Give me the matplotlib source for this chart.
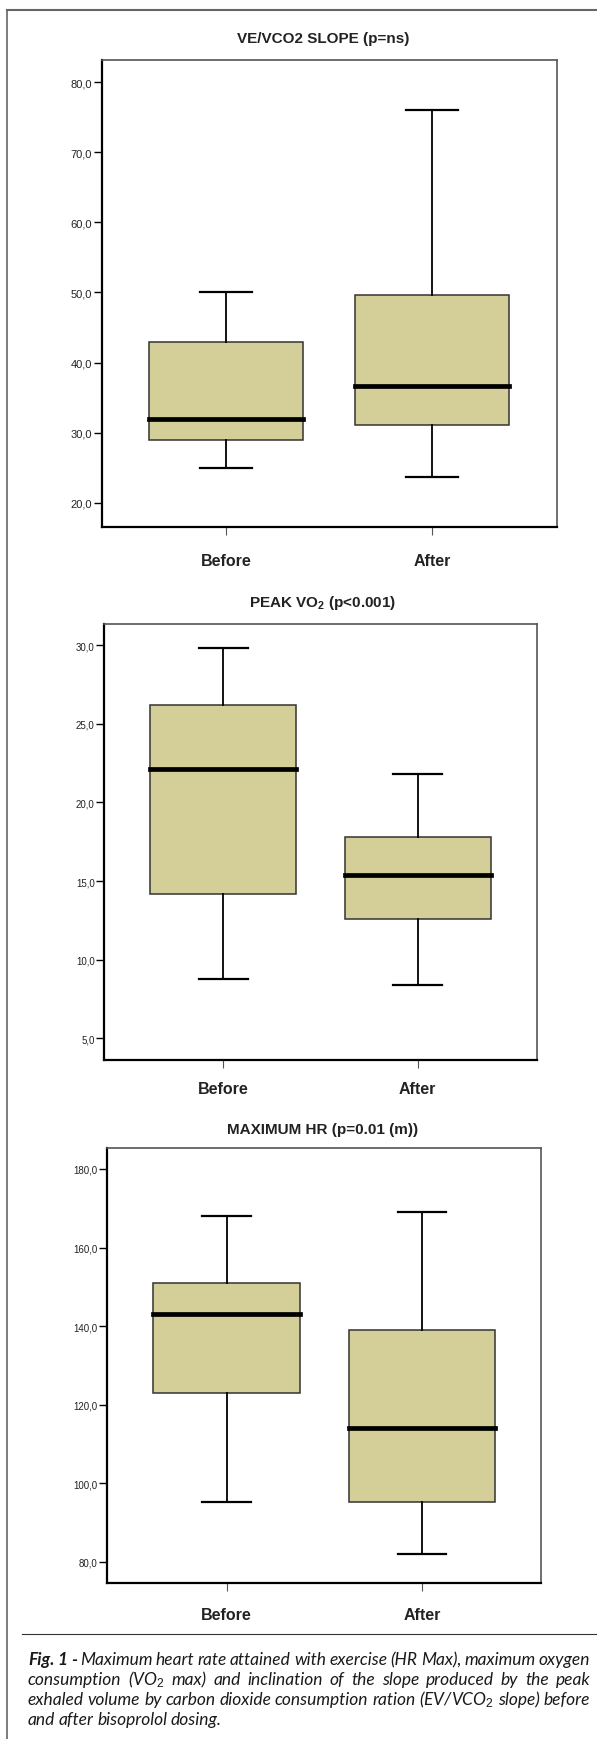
import matplotlib
matplotlib.use("Agg")
import matplotlib.pyplot as plt
from matplotlib.lines import Line2D

plt.rcParams['font.family'] = ['Liberation Sans', 'DejaVu Sans']
plt.rcParams['mathtext.fontset'] = 'custom'
plt.rcParams['mathtext.rm'] = 'Liberation Sans'
plt.rcParams['mathtext.bf'] = 'Liberation Sans:bold'
plt.rcParams['mathtext.it'] = 'Lato:italic'

W, H = 597, 1740

categories = ["Before", "After"]

# whisker low, Q1, median, Q3, whisker high
slope_before = [25.0, 29.0, 32.0, 43.0, 50.0]
slope_after = [23.7, 31.1, 36.7, 49.7, 76.0]

vo2_before = [8.8, 14.2, 22.1, 26.2, 29.8]
vo2_after = [8.4, 12.6, 15.4, 17.8, 21.8]

hr_before = [95.1, 123.0, 143.0, 151.0, 168.0]
hr_after = [82.0, 95.1, 114.0, 139.0, 169.0]

titles = ["VE/VCO2 SLOPE (p=ns)", r"PEAK VO$_\mathbf{2}$ (p<0.001)", "MAXIMUM HR (p=0.01 (m))"]
yticks_list = [[20, 30, 40, 50, 60, 70, 80],
               [5, 10, 15, 20, 25, 30],
               [80, 100, 120, 140, 160, 180]]

caption_lines = [
    "Fig. 1 - Maximum heart rate attained with exercise (HR Max), maximum oxygen",
    r"consumption (VO$_2$ max) and inclination of the slope produced by the peak",
    r"exhaled volume by carbon dioxide consumption ration (EV/VCO$_2$ slope) before",
    "and after bisoprolol dosing.",
]

# layout in pixels: left, top, right, bottom
boxes_px = [(101.7, 61, 557, 527.7), (104.3, 625.3, 537, 1061), (107, 1149.3, 541, 1584.3)]
ylims = [(16.57, 83.18), (3.62, 31.32), (74.5, 185.26)]
xlims = [(0.397, 2.607), (0.388, 2.614), (0.387, 2.609)]
title_y = [39, 603, 1130]
ytick_size = [8, 7, 7]
xlab_pad = [13, 9, 11]


def to_stats(vals, label):
    lo, q1, med, q3, hi = vals
    return dict(whislo=lo, q1=q1, med=med, q3=q3, whishi=hi, label=label, fliers=[])


fig = plt.figure(figsize=(W / 100, H / 100), dpi=100)

panels = [(slope_before, slope_after), (vo2_before, vo2_after), (hr_before, hr_after)]

for i, (before, after) in enumerate(panels):
    l, t, r, b = boxes_px[i]
    ax = fig.add_axes([l / W, 1 - b / H, (r - l) / W, (b - t) / H])
    stats = [to_stats(before, categories[0]), to_stats(after, categories[1])]
    ax.bxp(stats, positions=[1, 2], widths=0.75, capwidths=0.25, showfliers=False,
           patch_artist=True,
           boxprops=dict(facecolor='#D4CF99', edgecolor='#333333', linewidth=1.1),
           whiskerprops=dict(color='black', linewidth=1.3),
           capprops=dict(color='black', linewidth=1.6),
           medianprops=dict(color='black', linewidth=3.4, solid_capstyle='projecting'))
    ax.set_xlim(*xlims[i])
    ax.set_ylim(*ylims[i])
    ax.set_yticks(yticks_list[i])
    ax.set_yticklabels([("%.1f" % v).replace('.', ',') for v in yticks_list[i]])
    ax.set_xticks([1, 2])
    ax.set_xticklabels(categories, fontsize=11.5, fontweight='bold', color='#222222')
    ax.tick_params(axis='y', length=6, width=1.0, pad=1, labelsize=ytick_size[i],
                   labelcolor='#222222')
    ax.tick_params(axis='x', length=6, width=0.8, color='#555555', pad=xlab_pad[i])
    for side in ['left', 'bottom']:
        ax.spines[side].set_linewidth(1.6)
        ax.spines[side].set_color('black')
    for side in ['top', 'right']:
        ax.spines[side].set_linewidth(1.2)
        ax.spines[side].set_color('#555555')
    fig.text(323 / W, 1 - title_y[i] / H, titles[i], ha='center', va='center',
             fontsize=11, fontweight='bold', color='#222222')

# page frame and caption rule
fig.add_artist(Line2D([6.5 / W, 6.5 / W], [0, 1 - 10.7 / H], transform=fig.transFigure,
                      color='#666666', linewidth=1.2))
fig.add_artist(Line2D([6.5 / W, 1], [1 - 10.7 / H, 1 - 10.7 / H], transform=fig.transFigure,
                      color='#666666', linewidth=1.5))
fig.add_artist(Line2D([21.7 / W, 1], [1 - 1635 / H, 1 - 1635 / H], transform=fig.transFigure,
                      color='#333333', linewidth=0.8))

# justified caption
renderer = fig.canvas.get_renderer()
cap_left, cap_right = 28.0, 590.0
line_y0, line_step = 1660, 20
bold_words = {"Fig.", "1", "-"}


def make_words(size):
    rows = []
    for k, line in enumerate(caption_lines):
        words = line.split(" ")
        y = 1 - (line_y0 + k * line_step) / H
        objs = []
        for j, w in enumerate(words):
            bold = (k == 0 and j < 3 and w in bold_words)
            txt = fig.text(0, y, w, ha='left', va='center', fontsize=size,
                           family=['Lato', 'DejaVu Sans'], style='italic',
                           fontweight='bold' if bold else 'normal', color='#1a1a1a')
            objs.append(txt)
        rows.append(objs)
    return rows


size = 13.5
while True:
    rows = make_words(size)
    min_gap = 99
    for objs in rows[:-1]:
        widths = [o.get_window_extent(renderer).width for o in objs]
        gap = (cap_right - cap_left - sum(widths)) / (len(objs) - 1)
        min_gap = min(min_gap, gap)
    if min_gap >= 3.0 or size < 8:
        break
    for objs in rows:
        for o in objs:
            o.remove()
    size -= 0.25

for k, objs in enumerate(rows):
    widths = [o.get_window_extent(renderer).width for o in objs]
    if k < len(rows) - 1:
        gap = (cap_right - cap_left - sum(widths)) / (len(objs) - 1)
    else:
        gap = 3.5
    x = cap_left
    for o, wd in zip(objs, widths):
        o.set_x(x / W)
        x += wd + gap

fig.savefig("out.png", dpi=100)
